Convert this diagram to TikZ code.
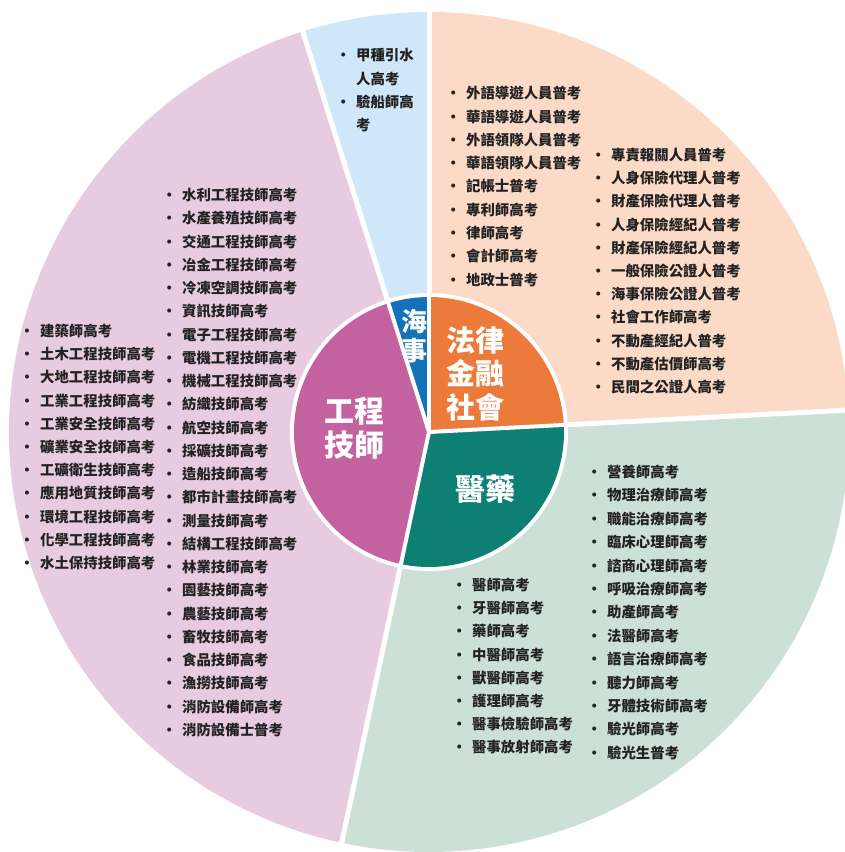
\documentclass[tikz,border=0pt]{standalone}
\usepackage{fontspec}
\newfontfamily\cjk{Noto Sans CJK TC}
\definecolor{pinkL}{HTML}{E7CBE1}
\definecolor{blueL}{HTML}{CFE7F8}
\definecolor{peachL}{HTML}{FBDBC7}
\definecolor{greenL}{HTML}{CDE0D8}
\definecolor{pinkD}{HTML}{C462A0}
\definecolor{blueD}{HTML}{1372B9}
\definecolor{orangeD}{HTML}{EC7B3B}
\definecolor{tealD}{HTML}{0E7F73}
\definecolor{ink}{HTML}{222222}
\newcommand\bl{\llap{\makebox[6pt]{•}\hspace{10pt}}}
\begin{document}
\begin{tikzpicture}[x=1pt,y=1pt,
  item/.style={anchor=west, inner sep=0pt, text=ink, font=\cjk\bfseries\fontsize{14.4}{17}\selectfont},
  inlabel/.style={align=center, inner sep=0pt, text=white, font=\cjk\bfseries\fontsize{29}{33.5}\selectfont},
  outsep/.style={white, line width=5pt},
  insep/.style={white, line width=4pt}]
\useasboundingbox (0,0) rectangle (845,-852);
\coordinate (C) at (429,-432);
% outer sectors
\fill[peachL] (C) -- ++(3:420) arc[start angle=3,end angle=90,radius=420] -- cycle;
\fill[blueL] (C) -- ++(90:420) arc[start angle=90,end angle=107.5,radius=420] -- cycle;
\fill[pinkL] (C) -- ++(107.5:420) arc[start angle=107.5,end angle=258,radius=420] -- cycle;
\fill[greenL] (C) -- ++(258:420) arc[start angle=258,end angle=363,radius=420] -- cycle;
\foreach \a in {3,90,107.5,258} \draw[outsep] (C) -- ++(\a:430);
% inner sectors
\fill[white] (C) circle[radius=139];
\fill[orangeD] (C) -- ++(3:135) arc[start angle=3,end angle=90,radius=135] -- cycle;
\fill[blueD] (C) -- ++(90:135) arc[start angle=90,end angle=107.5,radius=135] -- cycle;
\fill[pinkD] (C) -- ++(107.5:135) arc[start angle=107.5,end angle=258,radius=135] -- cycle;
\fill[tealD] (C) -- ++(258:135) arc[start angle=258,end angle=363,radius=135] -- cycle;
\foreach \a in {3,90,107.5,258} \draw[insep] (C) -- ++(\a:137);
% inner labels
\node[inlabel, font=\cjk\bfseries\fontsize{26}{28.5}\selectfont] (sealbl) at (414,-336) {海\\事};
\node[inlabel] (lawlbl) at (475,-373.5) {法律\\金融\\社會};
\node[inlabel, font=\cjk\bfseries\fontsize{30}{34}\selectfont] (englbl) at (354,-428.5) {工程\\技師};
\node[inlabel, font=\cjk\bfseries\fontsize{30}{34}\selectfont] (medlbl) at (485,-489) {醫藥};
% sea list
\node[item] (seaA1) at (356,-55.5) {\bl 甲種引水};
\node[item] (seaA2) at (356,-78.8) {人高考};
\node[item] (seaA3) at (356,-102.1) {\bl 驗船師高};
\node[item] (seaA4) at (356,-125.4) {考};
% law lists
\foreach \x [count=\i] in {外語導遊人員普考,華語導遊人員普考,外語領隊人員普考,華語領隊人員普考,記帳士普考,專利師高考,律師高考,會計師高考,地政士普考}
  \node[item] (lawA\i) at (466,{-93.3-23.3*(\i-1)}) {\bl\x};
\foreach \x [count=\i] in {專責報關人員普考,人身保險代理人普考,財產保險代理人普考,人身保險經紀人普考,財產保險經紀人普考,一般保險公證人普考,海事保險公證人普考,社會工作師高考,不動產經紀人普考,不動產估價師高考,民間之公證人高考}
  \node[item] (lawB\i) at (611,{-155-23.2*(\i-1)}) {\bl\x};
% engineering lists
\foreach \x [count=\i] in {建築師高考,土木工程技師高考,大地工程技師高考,工業工程技師高考,工業安全技師高考,礦業安全技師高考,工礦衛生技師高考,應用地質技師高考,環境工程技師高考,化學工程技師高考,水土保持技師高考}
  \node[item] (engA\i) at (40,{-331-23.2*(\i-1)}) {\bl\x};
\foreach \x [count=\i] in {水利工程技師高考,水產養殖技師高考,交通工程技師高考,冶金工程技師高考,冷凍空調技師高考,資訊技師高考,電子工程技師高考,電機工程技師高考,機械工程技師高考,紡織技師高考,航空技師高考,採礦技師高考,造船技師高考,都市計畫技師高考,測量技師高考,結構工程技師高考,林業技師高考,園藝技師高考,農藝技師高考,畜牧技師高考,食品技師高考,漁撈技師高考,消防設備師高考,消防設備士普考}
  \node[item] (engB\i) at (182,{-195-23.26*(\i-1)}) {\bl\x};
% medical lists
\foreach \x [count=\i] in {醫師高考,牙醫師高考,藥師高考,中醫師高考,獸醫師高考,護理師高考,醫事檢驗師高考,醫事放射師高考}
  \node[item] (medA\i) at (472,{-585-23.2*(\i-1)}) {\bl\x};
\foreach \x [count=\i] in {營養師高考,物理治療師高考,職能治療師高考,臨床心理師高考,諮商心理師高考,呼吸治療師高考,助產師高考,法醫師高考,語言治療師高考,聽力師高考,牙體技術師高考,驗光師高考,驗光生普考}
  \node[item] (medB\i) at (607,{-472-23.4*(\i-1)}) {\bl\x};
\end{tikzpicture}
\end{document}
